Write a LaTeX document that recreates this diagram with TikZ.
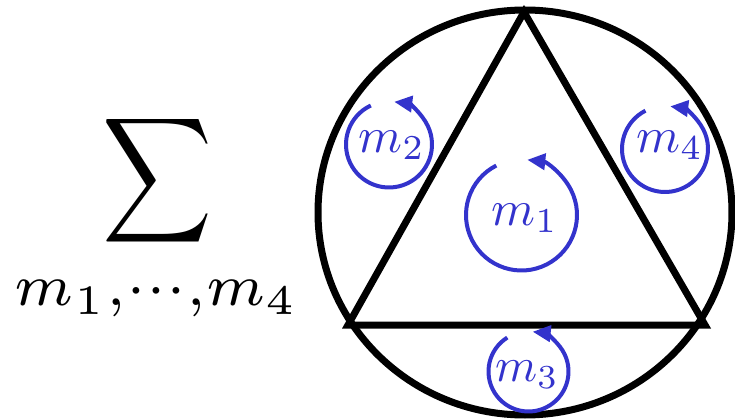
\documentclass[tikz,border=0pt]{standalone}
\usepackage{graphicx}
\usetikzlibrary{arrows.meta}
\definecolor{loopblue}{RGB}{51,51,204}
\begin{document}
\begin{tikzpicture}[x=0.5pt,y=0.5pt,
  edge/.style={line width=3.5pt, line join=miter},
  loopline/.style={loopblue, line width=2pt, -{Triangle[length=9pt,width=8pt]}},
  looplabel/.style={text=loopblue, inner sep=0pt}]
\useasboundingbox (0,0) rectangle (735,419);
% outer circle and triangle
\draw[edge] (525,206.5) ellipse [x radius=207, y radius=202.5];
\coordinate (A) at (524,407);
\coordinate (B) at (348,94);
\coordinate (C) at (705,94);
\draw[edge] (A) -- (B) -- (C) -- cycle;
% loop centres
\coordinate (c1) at (521.5,204);
\coordinate (c2) at (389,274.5);
\coordinate (c3) at (528.5,47.5);
\coordinate (c4) at (665,270);
% labels
\node[looplabel] (l1) at (525,201) {\scalebox{2.5}{$m_1$}};
\node[looplabel] (l2) at (392,274) {\scalebox{2.5}{$m_2$}};
\node[looplabel] (l3) at (527,44) {\scalebox{2.4}{$m_3$}};
\node[looplabel] (l4) at (670,274) {\scalebox{2.5}{$m_4$}};
% loops
\draw[loopline] ([shift={(117:55.5)}]c1) arc[start angle=117, end angle=444, radius=55.5];
\draw[loopline] ([shift={(115:43)}]c2) arc[start angle=115, end angle=443, radius=43];
\draw[loopline] ([shift={(122:40)}]c3) arc[start angle=122, end angle=444, radius=40];
\draw[loopline] ([shift={(117:43)}]c4) arc[start angle=117, end angle=443, radius=43];
% sum
\node[inner sep=0pt] (sum) at (158,238) {\resizebox*{55pt}{70pt}{$\displaystyle\sum$}};
\node[inner sep=0pt] (idx) at (156.5,121) {\resizebox{141.5pt}{!}{$\scriptstyle m_1,\cdots,m_4$}};
\end{tikzpicture}
\end{document}
